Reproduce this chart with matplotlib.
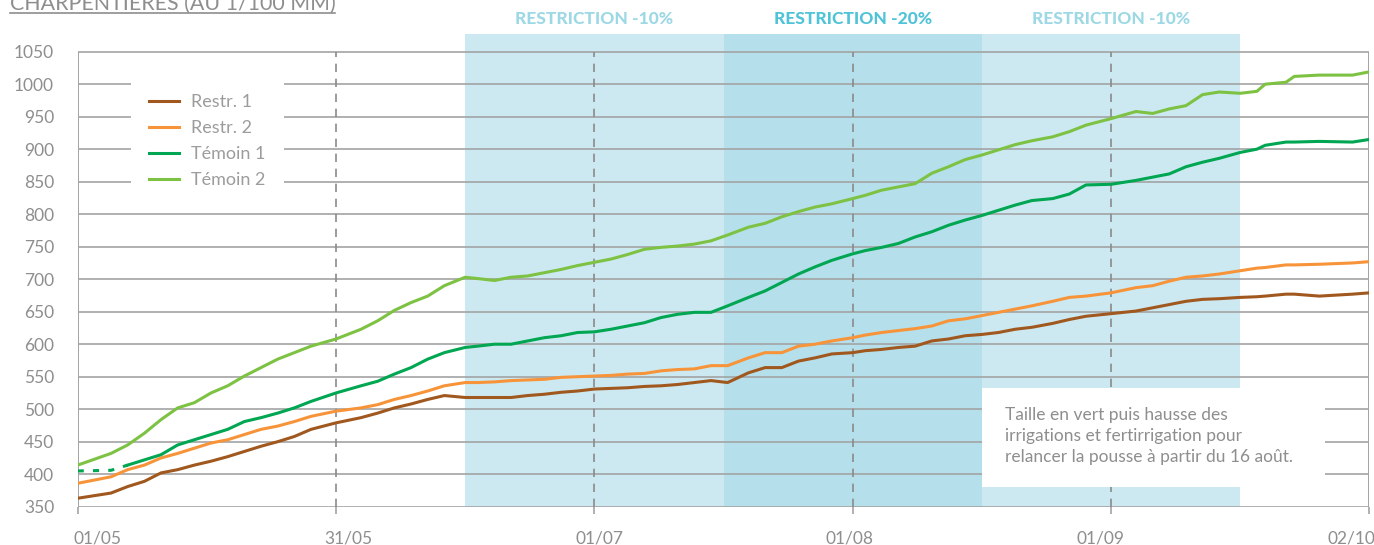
import matplotlib
matplotlib.use("Agg")
import matplotlib.pyplot as plt
from matplotlib.patches import Rectangle

# ---------------- data ----------------
tick_pos = [0, 31, 62, 93, 124, 155]
tick_labels = ["01/05", "31/05", "01/07", "01/08", "01/09", "02/10"]
y_ticks = list(range(350, 1051, 50))

days = [0, 4, 6, 8, 10, 12, 14, 16, 18, 20, 22, 24, 26, 28, 31, 34, 36, 38, 40, 42,
        44, 46.5, 48, 50, 52, 54, 56, 58, 60, 62, 64, 66, 68, 70, 72, 74, 76, 78, 80.5, 82.5,
        84.5, 86.5, 88.5, 90.5, 93, 94.5, 96.5, 98.5, 100.5, 102.5, 104.5, 106.5, 108.5, 110.5,
        112.5, 114.5, 117, 119, 121, 124, 127, 129, 131, 133, 135, 137, 139.5, 141.5, 142.5,
        145, 146, 149, 153, 155]

restr1 = [363, 371, 381, 389, 402, 407, 414, 420, 427, 435, 443, 450, 458, 469, 479, 487, 494, 502, 508, 515,
          521, 518, 518, 518, 518, 521, 523, 526, 528, 531, 532, 533, 535, 536, 538, 541, 544, 541, 556, 564,
          564, 574, 579, 585, 587, 590, 592, 595, 597, 605, 608, 613, 615, 618,
          623, 626, 632, 638, 643, 647, 651, 656, 661, 666, 669, 670, 672, 673, 674,
          677, 677, 674, 677, 679]

restr2 = [386, 396, 407, 414, 425, 432, 440, 448, 453, 461, 469, 474, 481, 489, 497, 502, 507, 515, 521, 528,
          536, 541, 541, 542, 544, 545, 546, 549, 550, 551, 552, 554, 555, 559, 561, 562, 567, 567, 579, 587,
          587, 597, 600, 605, 610, 614, 618, 621, 624, 628, 636, 639, 644, 649,
          654, 659, 666, 672, 674, 679, 687, 690, 697, 703, 705, 708, 713, 717, 718,
          722, 722, 723, 725, 727]

temoin1 = [405, 406, 414, 422, 430, 445, 453, 461, 469, 481, 487, 494, 502, 512, 525, 536, 543, 554, 564, 577,
           587, 595, 597, 600, 600, 605, 610, 613, 618, 619, 623, 628, 633, 641, 646, 649, 649, 659, 672, 682,
           695, 708, 719, 729, 739, 744, 749, 755, 765, 773, 783, 791, 798, 806,
           814, 821, 824, 831, 845, 846, 852, 857, 862, 873, 880, 886, 895, 900, 906,
           911, 911, 912, 911, 915]

temoin2 = [414, 432, 445, 463, 484, 502, 510, 525, 536, 551, 564, 577, 587, 597, 608, 623, 636, 652, 664, 674,
           690, 703, 701, 698, 703, 705, 710, 715, 721, 726, 731, 738, 746, 749, 751, 754, 759, 768, 780, 786,
           796, 804, 811, 816, 824, 829, 837, 842, 847, 863, 873, 884, 891, 899,
           907, 913, 919, 927, 937, 947, 958, 955, 962, 967, 984, 988, 986, 989, 1000,
           1003, 1012, 1014, 1014, 1019]

series_names = ["Restr. 1", "Restr. 2", "Témoin 1", "Témoin 2"]
series_values = [restr1, restr2, temoin1, temoin2]
series_colors = ["#A0581E", "#F7943A", "#00A651", "#7DC242"]
# number of leading points drawn as a broken (gappy) trace in the source
broken_start = [0, 0, 3, 0]

periods = [(46.5, 77.5), (77.5, 108.5), (108.5, 139.5)]
period_labels = ["RESTRICTION -10%", "RESTRICTION -20%", "RESTRICTION -10%"]
period_fill = ["#CCE9F1", "#B5E0EB", "#CCE9F1"]
period_text = ["#9DD8E5", "#4FC3D7", "#9DD8E5"]

title = "CHARPENTIÈRES (AU 1/100 MM)"
note = "Taille en vert puis hausse des\nirrigations et fertirrigation pour\nrelancer la pousse à partir du 16 août."

# ---------------- figure ----------------
FONT = ["Lato", "DejaVu Sans"]
GRAY_TXT = "#8E8E8E"
GRID = "#A3A3A3"

fig = plt.figure(figsize=(13.74, 5.45), dpi=100)
ax = fig.add_axes([0.05655, 0.07028, 0.94003, 0.86825])
ax.set_xlim(0, 155)
ax.set_ylim(350, 1078)
for s in ax.spines.values():
    s.set_visible(False)

# shaded periods
for (a, b), fc in zip(periods, period_fill):
    ax.axvspan(a, b, ymin=0, ymax=1, color=fc, lw=0, zorder=0)
for (a, b), lab, tc in zip(periods, period_labels, period_text):
    ax.text((a + b) / 2, 1100, lab, ha="center", va="center", fontsize=12.5,
            fontweight="black", color=tc, family=FONT, clip_on=False)

# horizontal grid
ax.hlines(y_ticks, 0, 155, colors=GRID, lw=1.2, zorder=1)
# vertical lines
ax.vlines([0, 155], 350, 1050, colors=GRID, lw=1.4, zorder=1)
ax.vlines(tick_pos[1:-1], 350, 1050, colors="#8A8A8A", lw=1.2,
          linestyles=(0, (5, 4)), zorder=1)

# annotation box
ax.add_patch(Rectangle((108.5, 380.3), 41.2, 152.3, facecolor="white",
                       edgecolor="none", zorder=2))
ax.text(111.3, 459, note, ha="left", va="center", fontsize=12.5, color=GRAY_TXT,
        family=FONT, linespacing=1.38, zorder=4)

# data lines
for name, vals, col, nb in zip(series_names, series_values, series_colors, broken_start):
    if nb > 0:
        ax.plot(days[:nb], vals[:nb], color=col, lw=2.2, ls=(0, (2, 3)), zorder=3)
        ax.plot(days[nb - 1:], vals[nb - 1:], color=col, lw=2.2, label=name, zorder=3)
    else:
        ax.plot(days, vals, color=col, lw=2.2, label=name, zorder=3)

# ticks (marks at dates, labels spread evenly across the axis as in the source)
ax.set_xticks(tick_pos)
ax.set_xticklabels([])
ax.set_yticks(y_ticks)
ax.tick_params(axis="x", length=5, width=1.2, color=GRID)
ax.tick_params(axis="y", length=0, pad=17, labelsize=12.5, labelcolor=GRAY_TXT)
for lab in ax.get_yticklabels():
    lab.set_family(FONT)
n = len(tick_labels)
for i, lab in enumerate(tick_labels):
    xf = (98 + i * (1351 - 98) / (n - 1)) / 1374
    fig.text(xf, 1 - 538 / 545, lab, ha="center", va="center", fontsize=12.5,
             color=GRAY_TXT, family=FONT)

# legend
leg = ax.legend(loc="upper left", bbox_to_anchor=(131 / 1374, 1 - 76 / 545),
                bbox_transform=fig.transFigure, frameon=True, fancybox=False,
                framealpha=1, facecolor="white", edgecolor="none",
                prop={"family": FONT, "size": 13}, handlelength=1.67,
                handletextpad=0.67, labelspacing=0.55, borderpad=1.0,
                borderaxespad=0)
leg.set_zorder(5)
for t in leg.get_texts():
    t.set_color("#9C9C9C")

# title (cut at top, as in the source)
fig.text(10 / 1374, 1 - 10 / 545, title, ha="left", va="baseline", fontsize=15.4,
         color=GRAY_TXT, family=FONT)
fig.add_artist(plt.Line2D([10 / 1374, 335 / 1374], [1 - 13 / 545, 1 - 13 / 545],
                          color=GRAY_TXT, lw=1.2, transform=fig.transFigure))

fig.savefig("out.png", dpi=100)
